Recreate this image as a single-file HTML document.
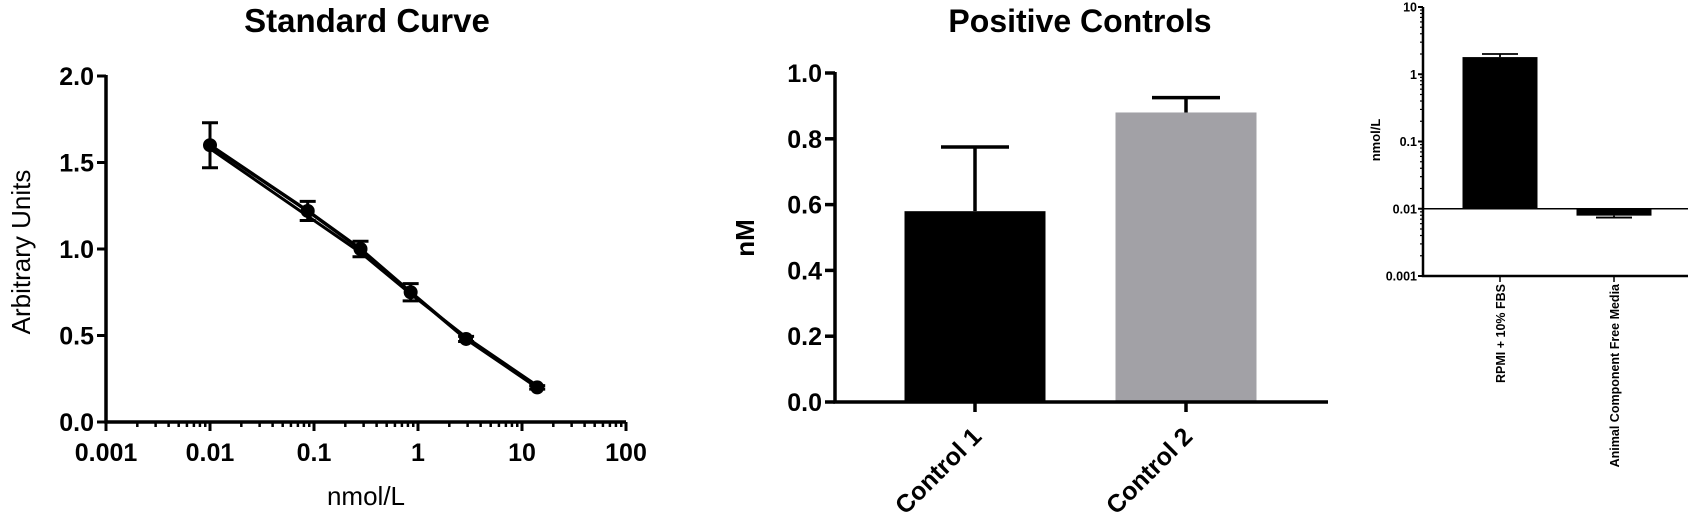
<!DOCTYPE html>
<html><head><meta charset="utf-8"><style>
html,body{margin:0;padding:0;background:#fff;}
svg{display:block;font-family:"Liberation Sans",Arial,sans-serif;}
</style></head><body>
<svg id="s" width="1688" height="522" viewBox="0 0 1688 522" xmlns="http://www.w3.org/2000/svg">
<g id="g1"></g>
<g id="g2"></g>
<g id="g3"></g>
</svg>
<script>
// Standard curve data
const scX = [0.01, 0.087, 0.28, 0.85, 2.9, 14];
const scMean = [1.60, 1.22, 1.00, 0.75, 0.48, 0.20];
const scRep = [1.58, 1.19, 0.98, 0.74, 0.49, 0.21];
const scErr = [0.13, 0.055, 0.045, 0.05, 0.015, 0.01];
const scXTicks = ["0.001","0.01","0.1","1","10","100"];
const scYTicks = ["0.0","0.5","1.0","1.5","2.0"];
// Positive controls data
const pcCats = ["Control 1","Control 2"];
const pcVals = [0.58, 0.88];
const pcErr = [0.195, 0.045];
const pcYTicks = ["0.0","0.2","0.4","0.6","0.8","1.0"];
// Media comparison data
const mdCats = ["RPMI + 10% FBS","Animal Component Free Media"];
const mdVals = [1.8, 0.0079];
const mdErrEnd = [2.0, 0.0074];
const mdYTicks = ["0.001","0.01","0.1","1","10"];

const NS="http://www.w3.org/2000/svg";
function mk(parent,tag,attrs,text){const e=document.createElementNS(NS,tag);for(const k in attrs)e.setAttribute(k,attrs[k]);if(text!==undefined)e.textContent=text;parent.appendChild(e);return e;}

// ---------- Chart 1 ----------
(function(){
const g=document.getElementById('g1');
const x0=106,x1=626,y0=422,y1=76;
const xs=v=>x0+(Math.log10(v)+3)*(x1-x0)/5;
const ys=v=>y0-v*(y0-y1)/2;
let t=mk(g,'text',{x:367,y:32,'font-size':33,'font-weight':'bold','text-anchor':'middle'},'Standard Curve');


let yl=mk(g,'text',{x:0,y:0,transform:'translate(30,252) rotate(-90)','font-size':26,'text-anchor':'middle'},'Arbitrary Units');


let xl=mk(g,'text',{x:366,y:505,'font-size':26,'text-anchor':'middle'},'nmol/L');


let ax=mk(g,'path',{d:`M${x0} ${y1-1}V${y0}H${x1}`,stroke:'#000','stroke-width':3.5,fill:'none'});


scYTicks.forEach((s,i)=>{const v=parseFloat(s),y=ys(v);
 mk(g,'line',{x1:x0-9,x2:x0,y1:y,y2:y,stroke:'#000','stroke-width':3});
 const tt=mk(g,'text',{x:x0-12,y:y+9,'font-size':25,'font-weight':'bold','text-anchor':'end'},s);
 
 });
scXTicks.forEach((s,i)=>{const v=parseFloat(s),x=xs(v);
 mk(g,'line',{x1:x,x2:x,y1:y0,y2:y0+9,stroke:'#000','stroke-width':3});
 const tt=mk(g,'text',{x:x,y:y0+39,'font-size':25,'font-weight':'bold','text-anchor':'middle'},s);
 
 
 if(i<scXTicks.length-1){for(let m=2;m<=9;m++){const xm=xs(v*m);mk(g,'line',{x1:xm,x2:xm,y1:y0,y2:y0+5,stroke:'#000','stroke-width':2.5});}}});
const pts=a=>a.map((v,i)=>xs(scX[i])+','+ys(v)).join(' ');
let r=mk(g,'polyline',{points:pts(scRep),fill:'none',stroke:'#000','stroke-width':3});


let l=mk(g,'polyline',{points:pts(scMean),fill:'none',stroke:'#000','stroke-width':3.5});


scMean.forEach((v,i)=>{const x=xs(scX[i]),e=scErr[i];
 const eb=mk(g,'path',{d:`M${x} ${ys(v+e)}V${ys(v-e)}M${x-8} ${ys(v+e)}H${x+8}M${x-8} ${ys(v-e)}H${x+8}`,stroke:'#000','stroke-width':3,fill:'none'});
 
 
 const c=mk(g,'circle',{cx:x,cy:ys(v),r:7,fill:'#000'});
 
 });
})();

// ---------- Chart 2 ----------
(function(){
const g=document.getElementById('g2');
const x0=835,x1=1328,y0=402,y1=73;
const ys=v=>y0-v*(y0-y1);
const centers=[975,1186],bw=141,colors=['#000','#a2a1a6'];
let t=mk(g,'text',{x:1080,y:32,'font-size':32,'font-weight':'bold','text-anchor':'middle'},'Positive Controls');


let yl=mk(g,'text',{x:0,y:0,transform:'translate(754,238) rotate(-90)','font-size':26,'font-weight':'bold','text-anchor':'middle'},'nM');


pcVals.forEach((v,i)=>{const c=centers[i];
 const eb=mk(g,'path',{d:`M${c} ${ys(v)}V${ys(v+pcErr[i])}M${c-34} ${ys(v+pcErr[i])}H${c+34}`,stroke:'#000','stroke-width':3.5,fill:'none'});
 
 
 const b=mk(g,'rect',{x:c-bw/2,y:ys(v),width:bw,height:y0-ys(v),fill:colors[i]});
 
 
 mk(g,'line',{x1:c,x2:c,y1:y0,y2:y0+10,stroke:'#000','stroke-width':3.5});
 const tl=mk(g,'text',{x:0,y:0,transform:`translate(${c+8},${y0+36}) rotate(-45)`,'font-size':25,'font-weight':'bold','text-anchor':'end'},pcCats[i]);
 
 });
let ax=mk(g,'path',{d:`M${x0} ${y1-1}V${y0}H${x1}`,stroke:'#000','stroke-width':3.5,fill:'none'});


pcYTicks.forEach(s=>{const y=ys(parseFloat(s));
 mk(g,'line',{x1:x0-10,x2:x0,y1:y,y2:y,stroke:'#000','stroke-width':3.5});
 const tt=mk(g,'text',{x:x0-13,y:y+9,'font-size':25,'font-weight':'bold','text-anchor':'end'},s);
 
 });
})();

// ---------- Chart 3 ----------
(function(){
const g=document.getElementById('g3');
const x0=1423,x1=1688,y0=276,y1=7;
const ys=v=>y0-(Math.log10(v)+3)*(y0-y1)/4;
const centers=[1500,1614],bw=75,base=0.01;
let yl=mk(g,'text',{x:0,y:0,transform:'translate(1380,140) rotate(-90)','font-size':13,'font-weight':'bold','text-anchor':'middle'},'nmol/L');


mdVals.forEach((v,i)=>{const c=centers[i];const top=Math.min(ys(v),ys(base)),bot=Math.max(ys(v),ys(base));
 const eb=mk(g,'path',{d:`M${c} ${ys(v)}V${ys(mdErrEnd[i])}M${c-18} ${ys(mdErrEnd[i])}H${c+18}`,stroke:'#000','stroke-width':1.8,fill:'none'});
 
 
 const b=mk(g,'rect',{x:c-bw/2,y:top,width:bw,height:bot-top,fill:'#000'});
 
 
 mk(g,'line',{x1:c,x2:c,y1:y0,y2:y0+6,stroke:'#000','stroke-width':1.5});
 const tl=mk(g,'text',{x:0,y:0,transform:`translate(${c+5},${y0+8}) rotate(-90)`,'font-size':12.5,'font-weight':'bold','text-anchor':'end'},mdCats[i]);
 
 });
let bl=mk(g,'line',{x1:x0,x2:x1,y1:ys(base),y2:ys(base),stroke:'#000','stroke-width':1.5});


let ax=mk(g,'path',{d:`M${x0} ${y1}V${y0}H${x1}`,stroke:'#000','stroke-width':2.5,fill:'none'});


mdYTicks.forEach((s,i)=>{const v=parseFloat(s),y=ys(v);
 mk(g,'line',{x1:x0-5,x2:x0,y1:y,y2:y,stroke:'#000','stroke-width':2});
 const tt=mk(g,'text',{x:x0-6,y:y+4.5,'font-size':12.5,'font-weight':'bold','text-anchor':'end'},s);
 
 
 if(i<mdYTicks.length-1){for(let m=2;m<=9;m++){const ym=ys(v*m);mk(g,'line',{x1:x0-3,x2:x0,y1:ym,y2:ym,stroke:'#000','stroke-width':1.2});}}});
})();
</script>
</body></html>
